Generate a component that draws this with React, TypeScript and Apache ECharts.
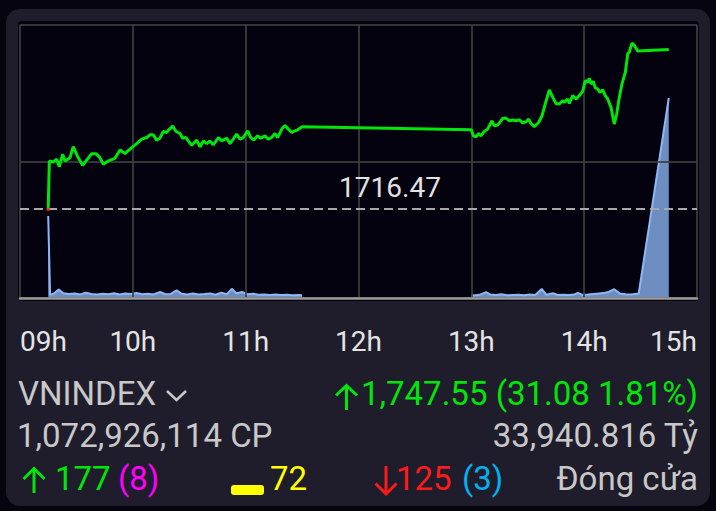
import React, { useEffect, useRef } from "react";
import * as echarts from "echarts";

// ---- data ----
const hourLabels = ["09h", "10h", "11h", "12h", "13h", "14h", "15h"];
const referencePrice = 1716.47;
const indexName = "VNINDEX";
const totalVolumeText = "1,072,926,114 CP";
const totalValueText = "33,940.816 Tỷ";
const advancers = 177;
const ceilingCount = 8;
const unchanged = 72;
const decliners = 125;
const floorCount = 3;
const statusText = "Đóng cửa";

// minutes after 09:00
const priceMinutes = [
  15, 15.6, 17.7, 19.5, 20.9, 22.7, 23.9, 26.6, 28.3, 30.5, 33.3, 35.8, 38.1, 40.4, 42.5, 44.3, 47.0, 50.5,
  53.2, 55.8, 59.4, 62.1, 64.7, 67.4, 69.1, 70.9, 72.7, 74.4, 76.2, 78.0, 78.9, 81.2, 83.0, 85.1, 86.5, 88.3,
  89.5, 91.3, 94.0, 95.7, 97.5, 99.3, 101.0, 102.8, 105.5, 107.3, 109.0, 109.9, 111.7, 113.4, 115.2, 117.0,
  118.7, 121.1, 122.7, 124.4, 126.2, 128.0, 130.3, 132.0, 133.8, 135.6, 137.0, 139.2, 140.9, 142.7, 144.5,
  146.2, 147.7, 150.0,
  240.0, 241.1, 242.5, 243.9, 245.1, 246.9, 248.7, 251.0, 252.2, 254.0, 256.7, 258.4, 260.2, 262.0, 263.8,
  265.5, 267.3, 269.1, 270.5, 271.7, 273.5, 275.8, 277.6, 279.3, 281.5, 283.3, 285.0, 286.8, 288.6, 289.4,
  291.2, 292.1, 293.9, 295.7, 297.4, 299.2, 300.6, 301.9, 302.7, 303.6, 304.9, 305.9, 307.2, 308.4, 309.9,
  311.2, 312.5, 314.3, 316.0, 317.3, 318.7, 320.1, 321.9, 323.2, 324.0, 325.4, 326.7, 328.5, 345.0,
];
const priceValues = [
  1716.47, 1725.85, 1725.66, 1726.18, 1724.74, 1727.16, 1725.85, 1726.5, 1728.65, 1726.83, 1725.01, 1726.18,
  1727.28, 1727.28, 1726.5, 1725.21, 1725.85, 1726.38, 1728.0, 1727.28, 1728.45, 1729.23, 1730.09, 1730.41,
  1730.93, 1730.93, 1729.9, 1730.29, 1731.58, 1731.38, 1731.85, 1732.63, 1731.58, 1731.19, 1730.29, 1730.41,
  1729.76, 1728.92, 1729.9, 1728.59, 1729.76, 1729.23, 1729.76, 1728.98, 1730.41, 1729.76, 1730.09, 1730.29,
  1729.23, 1730.09, 1731.07, 1730.09, 1730.41, 1731.72, 1730.41, 1729.9, 1730.74, 1730.29, 1730.74, 1730.09,
  1730.41, 1731.19, 1730.41, 1732.05, 1732.75, 1732.05, 1731.38, 1731.72, 1731.91, 1732.5,
  1731.91, 1730.74, 1730.54, 1731.19, 1730.74, 1731.58, 1732.05, 1733.67, 1732.69, 1732.83, 1734.12, 1734.2,
  1733.67, 1733.81, 1733.67, 1733.87, 1733.28, 1733.48, 1734.0, 1733.14, 1732.5, 1733.34, 1734.65, 1736.94,
  1739.67, 1738.23, 1737.05, 1736.94, 1737.58, 1737.25, 1737.91, 1737.05, 1738.56, 1737.91, 1738.56, 1739.4,
  1741.49, 1741.16, 1741.94, 1740.84, 1741.35, 1740.06, 1739.87, 1739.2, 1739.67, 1738.56, 1737.91, 1736.27,
  1733.03, 1734.98, 1738.23, 1740.84, 1743.11, 1746.71, 1747.02, 1748.78, 1748.33, 1747.22, 1747.55,
];

// volume (million shares), null = lunch break
const volumeMinutes = [
  15, 16, 18, 20.6, 23, 26, 29, 32, 35, 38, 41, 44, 47, 50, 53, 56, 59, 62, 65, 68, 71, 74.5, 77, 80, 83.3, 86,
  89, 92, 95, 98, 101, 104, 107, 110, 112.6, 115, 118, 121, 124, 127, 130, 133, 136, 139, 142, 145, 148, 150,
  195,
  240, 243, 245, 247.8, 250, 253, 256, 259, 262, 265, 268, 271, 274, 277.4, 280, 283.4, 286, 289, 292, 294.5,
  296.7, 299, 302, 305, 308, 311, 313, 316, 319, 322, 325, 329, 345,
];
const volumeValues: (number | null)[] = [
  41, 1.6, 2.2, 4.3, 2.4, 2.0, 2.3, 1.8, 2.6, 2.0, 1.7, 2.1, 1.9, 2.4, 1.8, 2.2, 2.0, 2.5, 1.9, 2.1, 1.8, 3.0,
  2.0, 1.9, 3.8, 2.1, 1.7, 2.2, 1.8, 2.0, 2.3, 1.6, 2.7, 1.9, 4.6, 2.4, 3.0, 1.9, 2.1, 1.6, 1.8, 1.5, 1.7, 1.5,
  1.6, 1.4, 1.5, 1.4,
  null,
  1.2, 1.5, 1.8, 2.9, 1.8, 1.5, 1.9, 1.4, 1.5, 1.6, 1.4, 1.7, 1.5, 4.5, 1.6, 2.4, 1.5, 1.6, 1.5, 1.7, 2.6, 1.6,
  1.7, 2.0, 2.3, 2.6, 3.0, 4.4, 2.2, 1.9, 1.8, 2.2, 100,
];

const SESSION_START = 540; // 09:00 in minutes

const GREEN = "#00e60a";
const RED = "#ff1a1a";
const GRAY = "#c8c8c8";
const FONT = "Roboto";
const INFO_SIZE = 33;

function fmt2(n: number) {
  return n.toLocaleString("en-US", { minimumFractionDigits: 2, maximumFractionDigits: 2 });
}

export default function App() {
  const ref = useRef<HTMLDivElement>(null);
  useEffect(() => {
    const chart = echarts.init(ref.current!, null, { renderer: "svg" });
    const closePrice = priceValues[priceValues.length - 1];
    const change = closePrice - referencePrice;
    const pct = (change / referencePrice) * 100;
    const changeText = `${fmt2(closePrice)} (${change.toFixed(2)} ${pct.toFixed(2)}%)`;

    const priceData: any[] = priceMinutes.map((m, i) => [SESSION_START + m, priceValues[i]]);
    // opening point sits on the reference: drawn as a small red mark
    priceData[0] = { value: priceData[0], symbol: "rect", symbolSize: [3, 3], itemStyle: { color: "#ff2424" } };
    const volumeData = volumeMinutes.map((m, i) => [SESSION_START + m, volumeValues[i]]);

    const txt = (id: string, text: string, x: number, y: number, fill: string, size: number, align = "left") => ({
      id,
      type: "text",
      x,
      y,
      style: { text, fill, fontSize: size, fontFamily: FONT, textAlign: align, verticalAlign: "middle" },
    });

    const option: any = {
      animation: false,
      backgroundColor: "#05040f",
      grid: { left: 20, right: 19, top: 25, bottom: 213 },
      xAxis: {
        type: "value",
        min: 540,
        max: 900,
        interval: 60,
        axisLine: { show: true, lineStyle: { color: "#9a9a9a", width: 2.5 } },
        axisTick: { show: false },
        splitLine: { show: true, lineStyle: { color: "rgba(62,62,62,0.85)", width: 2 } },
        axisLabel: {
          color: "#e4e4e4",
          fontSize: 28,
          fontFamily: FONT,
          margin: 29,
          alignMinLabel: "left",
          alignMaxLabel: "right",
          formatter: (v: number) => hourLabels[Math.round((v - SESSION_START) / 60)],
        },
      },
      yAxis: [
        {
          type: "value",
          min: 1699.2,
          max: 1752.3,
          interval: 26.55,
          axisLine: { show: false },
          axisTick: { show: false },
          axisLabel: { show: false },
          splitLine: { show: true, lineStyle: { color: "rgba(62,62,62,0.85)", width: 2 } },
        },
        {
          type: "value",
          min: 0,
          max: 136.5,
          axisLine: { show: false },
          axisTick: { show: false },
          axisLabel: { show: false },
          splitLine: { show: false },
        },
      ],
      series: [
        {
          type: "line",
          data: priceData,
          symbol: "none",
          z: 5,
          color: GREEN,
          lineStyle: { width: 3, color: GREEN },
          markLine: {
            symbol: ["none", "none"],
            silent: true,
            label: { show: false },
            lineStyle: { type: [9, 5], color: "#a8a8a8", width: 2 },
            data: [{ yAxis: referencePrice }],
          },
        },
        {
          type: "line",
          yAxisIndex: 1,
          data: volumeData,
          symbol: "none",
          connectNulls: false,
          z: -1,
          lineStyle: { width: 2, color: "#8cb8f6" },
          areaStyle: { color: "#6e8ec1", opacity: 1 },
        },
      ],
      graphic: {
        elements: [
          { id: "card", type: "rect", z: -10, shape: { x: 6, y: 9, width: 704, height: 497, r: 14 }, style: { fill: "#1f1c2b" } },
          { id: "plotbg", type: "rect", z: -9, shape: { x: 18, y: 21, width: 681, height: 280, r: 4 }, style: { fill: "#03020e" } },
          txt("name", indexName, 18, 393.5, GRAY, INFO_SIZE),
          { id: "chev", type: "polyline", shape: { points: [[167, 391], [176.5, 400], [186, 391]] }, style: { stroke: GRAY, lineWidth: 2.5, fill: null } },
          txt("vol", totalVolumeText, 17, 435.5, GRAY, INFO_SIZE),
          { id: "upStem", type: "line", shape: { x1: 34, y1: 468, x2: 34, y2: 493 }, style: { stroke: GREEN, lineWidth: 3 } },
          { id: "upHead", type: "polyline", shape: { points: [[23.5, 479], [34, 468.5], [44.5, 479]] }, style: { stroke: GREEN, lineWidth: 3, fill: null } },
          txt("adv", String(advancers), 55, 478, GREEN, INFO_SIZE),
          txt("ceil", `(${ceilingCount})`, 118, 478, "#ff00ff", INFO_SIZE),
          { id: "flatBar", type: "rect", shape: { x: 231, y: 485, width: 33, height: 10, r: 3 }, style: { fill: "#ffff00" } },
          txt("unch", String(unchanged), 270, 478, "#ffff00", INFO_SIZE),
          { id: "up2Stem", type: "line", shape: { x1: 346.5, y1: 385, x2: 346.5, y2: 410 }, style: { stroke: GREEN, lineWidth: 3 } },
          { id: "up2Head", type: "polyline", shape: { points: [[336, 395.5], [346.5, 385.5], [357, 395.5]] }, style: { stroke: GREEN, lineWidth: 3, fill: null } },
          txt("chg", changeText, 698, 393.5, GREEN, INFO_SIZE, "right"),
          txt("val", totalValueText, 698, 435.5, GRAY, INFO_SIZE, "right"),
          { id: "dnStem", type: "line", shape: { x1: 386, y1: 466, x2: 386, y2: 494 }, style: { stroke: RED, lineWidth: 3 } },
          { id: "dnHead", type: "polyline", shape: { points: [[375.5, 483.5], [386, 494], [396.5, 483.5]] }, style: { stroke: RED, lineWidth: 3, fill: null } },
          txt("dec", String(decliners), 396, 478, RED, INFO_SIZE),
          txt("floor", `(${floorCount})`, 462, 478, "#00b2f2", INFO_SIZE),
          txt("status", statusText, 698, 478, GRAY, INFO_SIZE, "right"),
        ],
      },
    };
    chart.setOption(option);
    const refY = chart.convertToPixel({ yAxisIndex: 0 }, referencePrice) as number;
    chart.setOption({
      graphic: {
        elements: [
          {
            id: "refLabel",
            type: "text",
            x: 390,
            y: refY - 22,
            z: 10,
            style: { text: referencePrice.toFixed(2), fill: "#e2e2e2", fontSize: 28, fontFamily: FONT, textAlign: "center", verticalAlign: "middle" },
          },
        ],
      },
    });
    return () => chart.dispose();
  }, []);
  return <div ref={ref} style={{ position: "fixed", left: 0, top: 0, width: 716, height: 511 }} />;
}
